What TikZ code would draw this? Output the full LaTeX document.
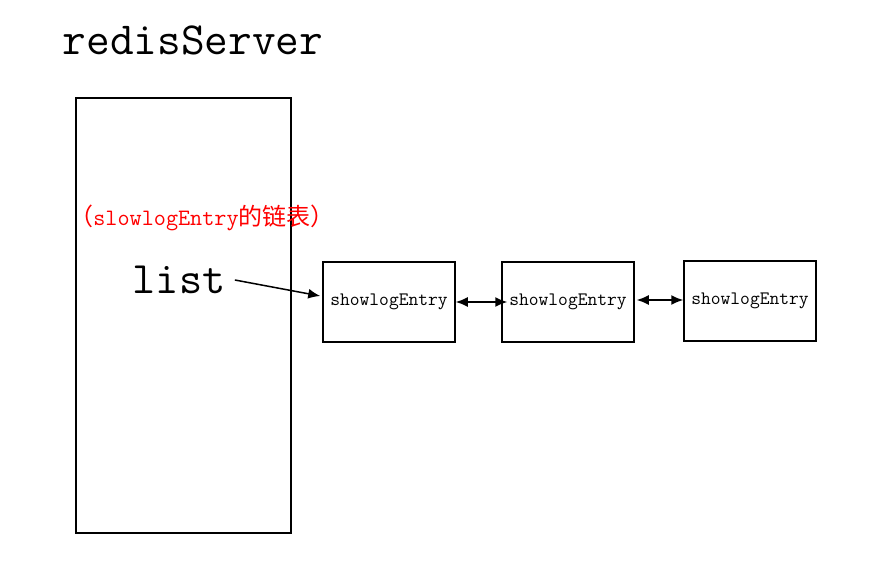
\documentclass[tikz,border=0pt]{standalone}
\usepackage{fontspec}
\usepackage{xcolor}
\usepackage{tikz}
\newfontfamily\cjk{Noto Sans CJK SC}
\usetikzlibrary{arrows.meta}
\tikzset{
	server node/.style={rectangle,draw,line width=1.5pt,minimum width=215pt,minimum height=435pt},
	entry node/.style={rectangle,draw,line width=1.5pt,minimum width=132pt,minimum height=80pt,inner sep=0pt,
		font=\ttfamily\fontsize{19}{21}\selectfont},
	link/.style={line width=1.5pt}
}

\begin{document}
\begin{tikzpicture}[x=1pt,y=-1pt,>={Latex[length=12pt,width=10pt]}]
	\useasboundingbox (0,0) rectangle (889,586);
	\node (title) at (193,40) {\ttfamily\fontsize{46}{50}\selectfont redisServer};
	\node [server node] (server) at (183.5,315.5) {};
	\node [text=red,inner sep=0pt] (note) at (197,218) {{\cjk\fontsize{24}{26}\selectfont \hspace{10pt}（}{\ttfamily\fontsize{23.5}{25}\selectfont slowlogEntry}{\cjk\fontsize{24}{26}\selectfont 的链表）\hspace{6pt}}};
	\node (list) at (179,280) {\ttfamily\fontsize{45}{48}\selectfont list};
	\node [entry node] (e1) at (389,302) {showlogEntry};
	\node [entry node] (e2) at (568,302) {showlogEntry};
	\node [entry node] (e3) at (750,301) {showlogEntry};
	\draw [link,->] ([xshift=6pt]list.east) -- ([xshift=-2pt,yshift=6pt]e1.west);
	\draw [link,<->] (e1.east) -- ([xshift=6pt]e2.west);
	\draw [link,<->] ([xshift=2pt,yshift=2pt]e2.east) -- ([yshift=1pt]e3.west);
\end{tikzpicture}
\end{document}
